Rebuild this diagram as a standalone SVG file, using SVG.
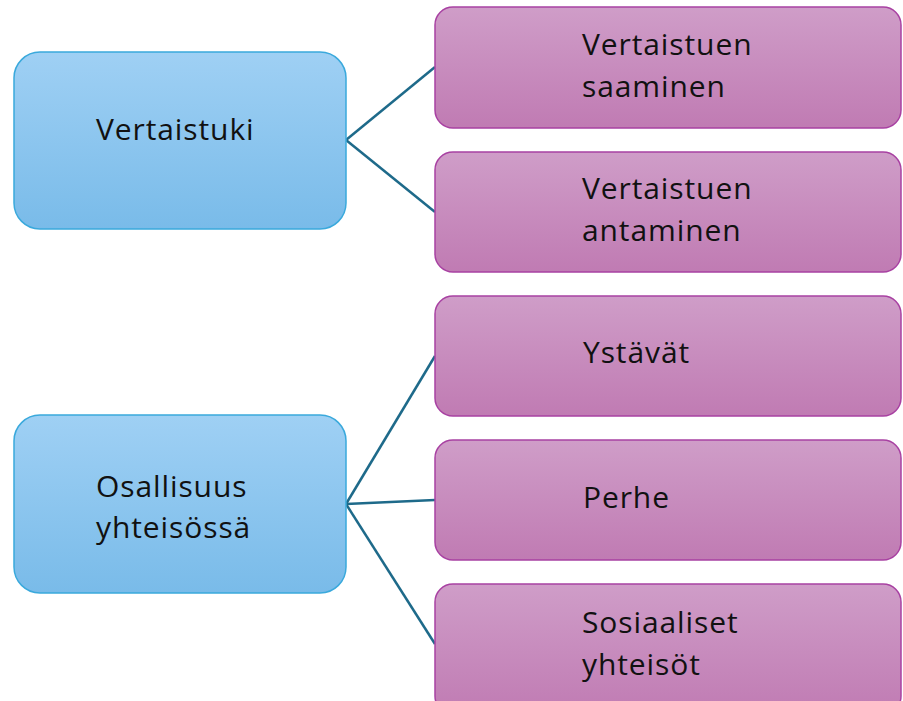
<svg xmlns="http://www.w3.org/2000/svg" width="903" height="701" viewBox="0 0 903 701">
<defs>
<linearGradient id="gb" x1="0" y1="0" x2="0" y2="1"><stop offset="0" stop-color="#9fd0f4"/><stop offset="1" stop-color="#79bbe9"/></linearGradient>
<linearGradient id="gp" x1="0" y1="0" x2="0" y2="1"><stop offset="0" stop-color="#cf9dc8"/><stop offset="1" stop-color="#c07bb3"/></linearGradient>
<style>
.b{fill:url(#gb);stroke:#3aa9dc;stroke-width:1.5}
.p{fill:url(#gp);stroke:#a841a2;stroke-width:1.5}
.t{font-family:"Open Sans","Liberation Sans",sans-serif;font-size:30px;letter-spacing:0.9px;fill:#111}
.c{stroke:#1e6a8a;stroke-width:2.5;fill:none}
</style>
</defs>
<rect width="903" height="701" fill="#fff"/>
<g id="connectors">
<line class="c" x1="346" y1="140" x2="435" y2="67"/>
<line class="c" x1="346" y1="140" x2="435" y2="212"/>
<line class="c" x1="346" y1="504" x2="435" y2="356"/>
<line class="c" x1="346" y1="504" x2="435" y2="500"/>
<line class="c" x1="346" y1="504" x2="435" y2="644"/>
</g>
<g id="n1"><rect class="b" x="14" y="52" width="332" height="177" rx="26"/><text class="t" x="96" y="140">Vertaistuki</text></g>
<g id="n2"><rect class="b" x="14" y="415" width="332" height="178" rx="26"/><text class="t" x="96" y="497">Osallisuus</text><text class="t" x="96" y="538">yhteisössä</text></g>
<g id="n3"><rect class="p" x="435" y="7" width="466" height="121" rx="18"/><text class="t" x="582" y="55">Vertaistuen</text><text class="t" x="582" y="97">saaminen</text></g>
<g id="n4"><rect class="p" x="435" y="152" width="466" height="120" rx="18"/><text class="t" x="582" y="199">Vertaistuen</text><text class="t" x="582" y="241">antaminen</text></g>
<g id="n5"><rect class="p" x="435" y="296" width="466" height="120" rx="18"/><text class="t" x="583" y="363">Ystävät</text></g>
<g id="n6"><rect class="p" x="435" y="440" width="466" height="120" rx="18"/><text class="t" x="583" y="508">Perhe</text></g>
<g id="n7"><rect class="p" x="435" y="584" width="466" height="130" rx="18"/><text class="t" x="582" y="633">Sosiaaliset</text><text class="t" x="582" y="675">yhteisöt</text></g>
</svg>
